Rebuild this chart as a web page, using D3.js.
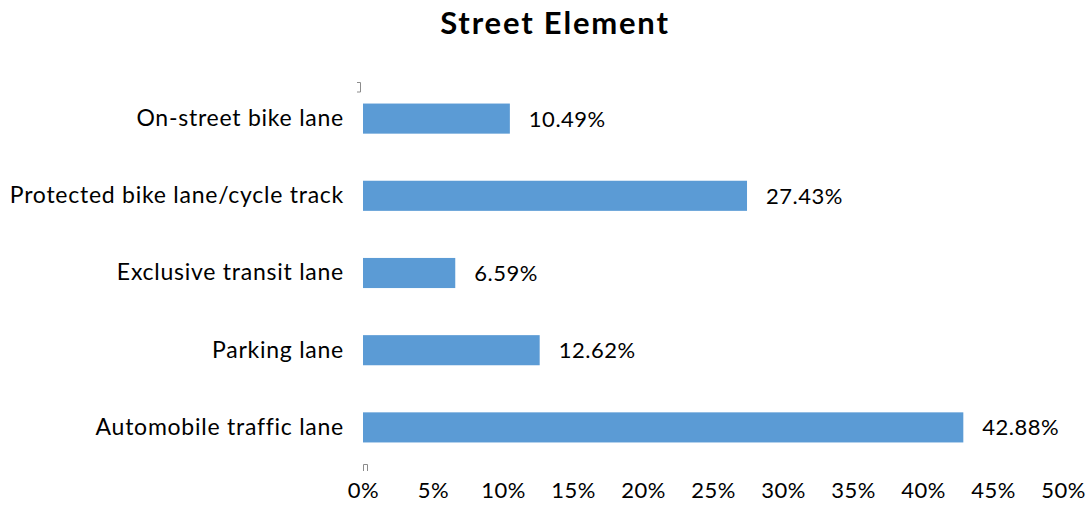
<!DOCTYPE html>
<html>
<head>
<meta charset="utf-8">
<script src="https://cdn.jsdelivr.net/npm/d3@7"></script>
<style>
  html, body { margin: 0; padding: 0; background: #fff; }
  svg { display: block; font-family: "Lato", "Open Sans", sans-serif; }
</style>
</head>
<body>
<svg id="chart" width="1091" height="508"></svg>
<script>
// Street element shares, top to bottom
const categories = [
  "On-street bike lane",
  "Protected bike lane/cycle track",
  "Exclusive transit lane",
  "Parking lane",
  "Automobile traffic lane"
];
const values = [10.49, 27.43, 6.59, 12.62, 42.88];
const tickValues = [0, 5, 10, 15, 20, 25, 30, 35, 40, 45, 50];
const title = "Street Element";

const svg = d3.select("#chart");
const margin = { left: 363, right: 28, top: 80, bottom: 42 };
const W = 1091, H = 508;
const FONT = "Lato, 'Open Sans', sans-serif";

const x = d3.scaleLinear().domain([0, 50]).range([margin.left, W - margin.right]);
const y = d3.scaleBand().domain(categories).range([margin.top, H - margin.bottom]).paddingInner(0.61).paddingOuter(0.305);

// Title
svg.append("text")
  .attr("x", 555).attr("y", 34)
  .attr("text-anchor", "middle")
  .attr("font-size", 31).attr("font-weight", "bold")
  .attr("letter-spacing", 1.8)
  .attr("fill", "#000")
  .text(title);

// Small corner marks of the plot area
svg.append("path")
  .attr("d", `M${x(0) - 6},${margin.top + 2.5}H${x(0) - 2.5}V${margin.top + 12}H${x(0) - 6}`)
  .attr("fill", "none").attr("stroke", "#8c8c8c").attr("stroke-width", 1);
svg.append("path")
  .attr("d", `M${x(0) + 0.5},${H - margin.bottom + 5}V${H - margin.bottom - 1.5}H${x(0) + 4.5}V${H - margin.bottom + 5}`)
  .attr("fill", "none").attr("stroke", "#8c8c8c").attr("stroke-width", 1);

// Bars
svg.append("g").selectAll("rect")
  .data(categories)
  .join("rect")
  .attr("x", x(0))
  .attr("y", d => y(d))
  .attr("width", (d, i) => x(values[i]) - x(0))
  .attr("height", y.bandwidth())
  .attr("fill", "#5B9BD5");

// Value labels
svg.append("g").selectAll("text")
  .data(categories)
  .join("text")
  .attr("x", (d, i) => x(values[i]) + 19)
  .attr("y", d => y(d) + y.bandwidth() / 2)
  .attr("dy", "0.36em")
  .attr("font-size", 22)
  .attr("letter-spacing", 0.5)
  .attr("fill", "#000")
  .text((d, i) => values[i].toFixed(2) + "%");

// Category axis
const yAxis = svg.append("g")
  .attr("transform", `translate(${x(0)},0)`)
  .call(d3.axisLeft(y).tickSize(0).tickPadding(19));
yAxis.select(".domain").remove();
yAxis.selectAll("text")
  .attr("font-size", 23).attr("letter-spacing", 0.75)
  .attr("fill", "#000").attr("font-family", FONT);

// Percentage axis
const xAxis = svg.append("g")
  .attr("transform", `translate(0,${H - margin.bottom})`)
  .call(d3.axisBottom(x).tickValues(tickValues).tickFormat(d => d + "%").tickSize(0).tickPadding(16));
xAxis.select(".domain").remove();
xAxis.selectAll("text")
  .attr("font-size", 22).attr("letter-spacing", 0.5)
  .attr("fill", "#000").attr("font-family", FONT);
</script>
</body>
</html>
